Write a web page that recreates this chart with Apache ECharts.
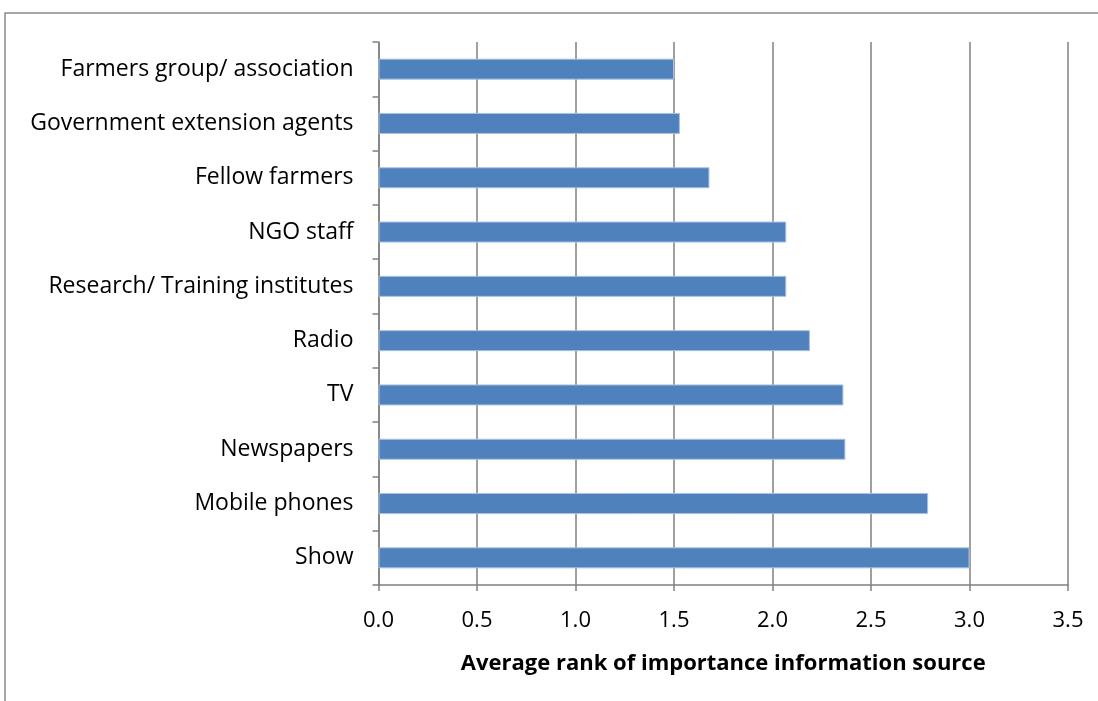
<!DOCTYPE html>
<html>
<head>
<meta charset="utf-8">
<title>Average rank of importance information source</title>
<script src="https://cdn.jsdelivr.net/npm/echarts@6/dist/echarts.min.js"></script>
<style>
  html, body { margin: 0; padding: 0; background: #ffffff; }
  #chart { width: 1098px; height: 701px; }
</style>
</head>
<body>
<div id="chart"></div>
<script>
// Information sources, listed top to bottom
const sources = [
  'Farmers group/ association',
  'Government extension agents',
  'Fellow farmers',
  'NGO staff',
  'Research/ Training institutes',
  'Radio',
  'TV',
  'Newspapers',
  'Mobile phones',
  'Show'
];

// Average rank for each source
const averageRank = [1.50, 1.53, 1.68, 2.07, 2.07, 2.19, 2.36, 2.37, 2.79, 3.00];

// Value axis ticks
const xTicks = [0.0, 0.5, 1.0, 1.5, 2.0, 2.5, 3.0, 3.5];

const axisTitle = 'Average rank of importance information source';

const FONT = '"Open Sans", "Liberation Sans", sans-serif';
const GRID_GRAY = '#808080';

const chart = echarts.init(document.getElementById('chart'), null, { renderer: 'canvas' });

chart.setOption({
  backgroundColor: '#ffffff',
  animation: false,
  graphic: [{
    type: 'rect',
    shape: { x: 5, y: 13, width: 1200, height: 800 },
    style: { fill: 'none', stroke: '#8c8c8c', lineWidth: 1.5 },
    silent: true,
    z: 0
  }],
  grid: {
    left: 378.5,
    right: 30,
    top: 42,
    bottom: 116,
    containLabel: false
  },
  xAxis: {
    type: 'value',
    min: xTicks[0],
    max: xTicks[xTicks.length - 1],
    interval: 0.5,
    name: axisTitle,
    nameLocation: 'middle',
    nameGap: 68,
    nameTextStyle: {
      fontFamily: FONT,
      fontSize: 22,
      fontWeight: 'bold',
      color: '#000000'
    },
    axisLine: { show: true, lineStyle: { color: GRID_GRAY, width: 1.5 } },
    axisTick: { show: true, length: 6, lineStyle: { color: GRID_GRAY, width: 1.5 } },
    axisLabel: {
      margin: 25,
      fontFamily: FONT,
      fontSize: 22,
      color: '#000000',
      formatter: v => v.toFixed(1)
    },
    splitLine: { show: true, lineStyle: { color: GRID_GRAY, width: 1.5 } }
  },
  yAxis: {
    type: 'category',
    data: sources,
    inverse: true,
    axisLine: { show: true, lineStyle: { color: GRID_GRAY, width: 1.5 } },
    axisTick: { show: true, length: 6, lineStyle: { color: GRID_GRAY, width: 1.5 } },
    axisLabel: {
      margin: 25,
      fontFamily: FONT,
      fontSize: 23,
      color: '#000000'
    },
    splitLine: { show: false }
  },
  series: [{
    type: 'bar',
    data: averageRank,
    barWidth: 21,
    itemStyle: {
      color: '#4f81bd',
      borderColor: '#a9c1df',
      borderWidth: 1
    },
    z: 3
  }]
});
</script>
</body>
</html>
